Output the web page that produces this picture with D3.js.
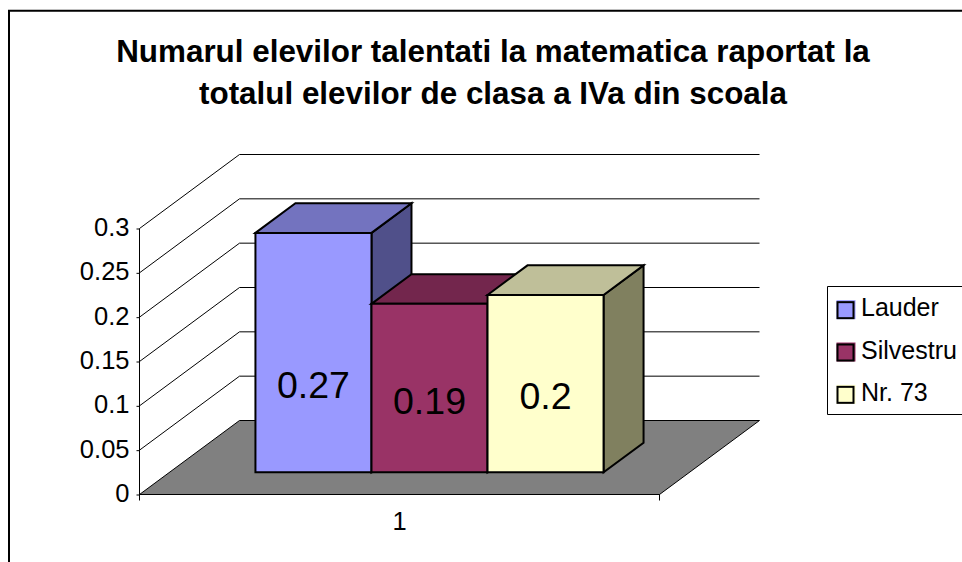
<!DOCTYPE html>
<html><head><meta charset="utf-8">
<script src="https://cdn.jsdelivr.net/npm/d3@7"></script>
<style>
html,body{margin:0;padding:0;background:#fff}
svg{display:block}
text{font-family:"Liberation Sans",Arial,sans-serif;fill:#000}
</style></head><body>
<div id="chart"></div>
<script>
const titleLines = ["Numarul elevilor talentati la matematica raportat la","totalul elevilor de clasa a IVa din scoala"];
const categories = ["1"];
const seriesNames = ["Lauder","Silvestru","Nr. 73"];
const seriesValues = [0.27,0.19,0.2];
const seriesLabels = ["0.27","0.19","0.2"];
const frontColors = ["#9999ff","#993366","#ffffcc"];
const topColors = ["#7373bf","#73264d","#bfbf99"];
const sideColors = ["#50508a","#50508a","#80805f"];
const yTicks = [0,0.05,0.1,0.15,0.2,0.25,0.3];
const yTickLabels = ["0","0.05","0.1","0.15","0.2","0.25","0.3"];

const W=962,H=562;
const svg=d3.select("#chart").append("svg").attr("width",W).attr("height",H);
const x0=139.5,xEnd=659.5,yBase=494.5,yTop=228.5,depthX=100,depthY=74;
const y=d3.scaleLinear().domain([0,0.3]).range([yBase,yTop]);
const xCat=d3.scaleBand().domain(categories).range([x0,xEnd]).padding(0.198);
const xSer=d3.scaleBand().domain(seriesNames).range([xCat("1"),xCat("1")+xCat.bandwidth()]);
const px=(xv,d)=>xv+depthX*d, py=(yv,d)=>yv-depthY*d;
const poly=pts=>pts.map(p=>p.join(",")).join(" ");
const line=d3.line();

// frame
svg.append("path").attr("d","M9,562V10.7H962").attr("fill","none").attr("stroke","#000").attr("stroke-width",2);

// title
svg.append("g").selectAll("text").data(titleLines).join("text")
  .attr("x",493).attr("y",(d,i)=>62+i*42).attr("text-anchor","middle")
  .attr("font-size",31.4).attr("font-weight","bold").text(d=>d);

// gridlines on walls
svg.append("g").selectAll("path").data(yTicks.slice(1)).join("path")
  .attr("d",t=>line([[x0,y(t)],[px(x0,1),py(y(t),1)],[px(xEnd,1),py(y(t),1)]]))
  .attr("fill","none").attr("stroke","#000").attr("stroke-width",1);

// floor
svg.append("polygon")
  .attr("points",poly([[x0,yBase],[px(x0,1),py(yBase,1)],[px(xEnd,1),py(yBase,1)],[xEnd,yBase]]))
  .attr("fill","#808080").attr("stroke","#000").attr("stroke-width",1);

// axes
const axL=d3.axisLeft(y).tickValues(yTicks).tickFormat((d,i)=>yTickLabels[i]).tickSize(3).tickPadding(7);
const gL=svg.append("g").attr("transform","translate("+x0+",0)").call(axL);
gL.select(".domain").attr("d","M0,"+yTop+"V"+(yBase+6)).attr("stroke","#000");
gL.selectAll("text").attr("font-size",25.5).attr("font-family",null).attr("dy","0.28em");

const axB=d3.axisBottom(xCat).tickSize(0).tickPadding(17);
const gB=svg.append("g").attr("transform","translate(0,"+yBase+")").call(axB);
gB.select(".domain").attr("d","M"+x0+",0H"+xEnd+"M"+xEnd+",0V6").attr("stroke","#000");
gB.selectAll("text").attr("font-size",25.5).attr("font-family",null);

// bars
const zFront=0.3,zBack=0.7;
const bars=svg.append("g").selectAll("g").data(seriesValues).join("g");
bars.each(function(v,i){
  const g=d3.select(this);
  const l=xSer(seriesNames[i]),r=l+xSer.bandwidth();
  const t=y(v),b=y(0);
  const sty=s=>s.attr("stroke","#000").attr("stroke-width",2).attr("stroke-linejoin","miter");
  sty(g.append("polygon").attr("fill",sideColors[i]).attr("points",poly([[px(r,zFront),py(t,zFront)],[px(r,zBack),py(t,zBack)],[px(r,zBack),py(b,zBack)],[px(r,zFront),py(b,zFront)]])));
  sty(g.append("polygon").attr("fill",topColors[i]).attr("points",poly([[px(l,zFront),py(t,zFront)],[px(l,zBack),py(t,zBack)],[px(r,zBack),py(t,zBack)],[px(r,zFront),py(t,zFront)]])));
  sty(g.append("polygon").attr("fill",frontColors[i]).attr("points",poly([[px(l,zFront),py(t,zFront)],[px(r,zFront),py(t,zFront)],[px(r,zFront),py(b,zFront)],[px(l,zFront),py(b,zFront)]])));
});
// value labels: nudges away from the bar-face centre, as placed in the picture
const labelNudgeY=[45,26,25];
svg.append("g").selectAll("text").data(seriesValues).join("text")
  .attr("x",(v,i)=>px(xSer(seriesNames[i])+xSer.bandwidth()/2,zFront))
  .attr("y",(v,i)=>py((y(v)+y(0))/2,zFront)+labelNudgeY[i])
  .attr("text-anchor","middle").attr("font-size",37.5).text((v,i)=>seriesLabels[i]);

// legend
const leg=svg.append("g");
leg.append("path").attr("d","M962,286.5H827.5V414.5H962").attr("fill","#fff").attr("stroke","#000").attr("stroke-width",1);
const legRow=d3.scaleBand().domain(seriesNames).range([289,416]);
const li=leg.selectAll("g").data(seriesNames).join("g")
  .attr("transform",d=>"translate(0,"+(legRow(d)+legRow.bandwidth()/2)+")");
li.append("rect").attr("x",836.5).attr("y",-10).attr("width",19).attr("height",19)
  .attr("fill",(d,i)=>frontColors[i]);
li.append("rect").attr("x",837.5).attr("y",-8).attr("width",16).attr("height",16)
  .attr("fill",(d,i)=>frontColors[i]).attr("stroke","#000").attr("stroke-width",2);
li.append("text").attr("x",861).attr("y",6).attr("font-size",25).text(d=>d);
</script></body></html>
